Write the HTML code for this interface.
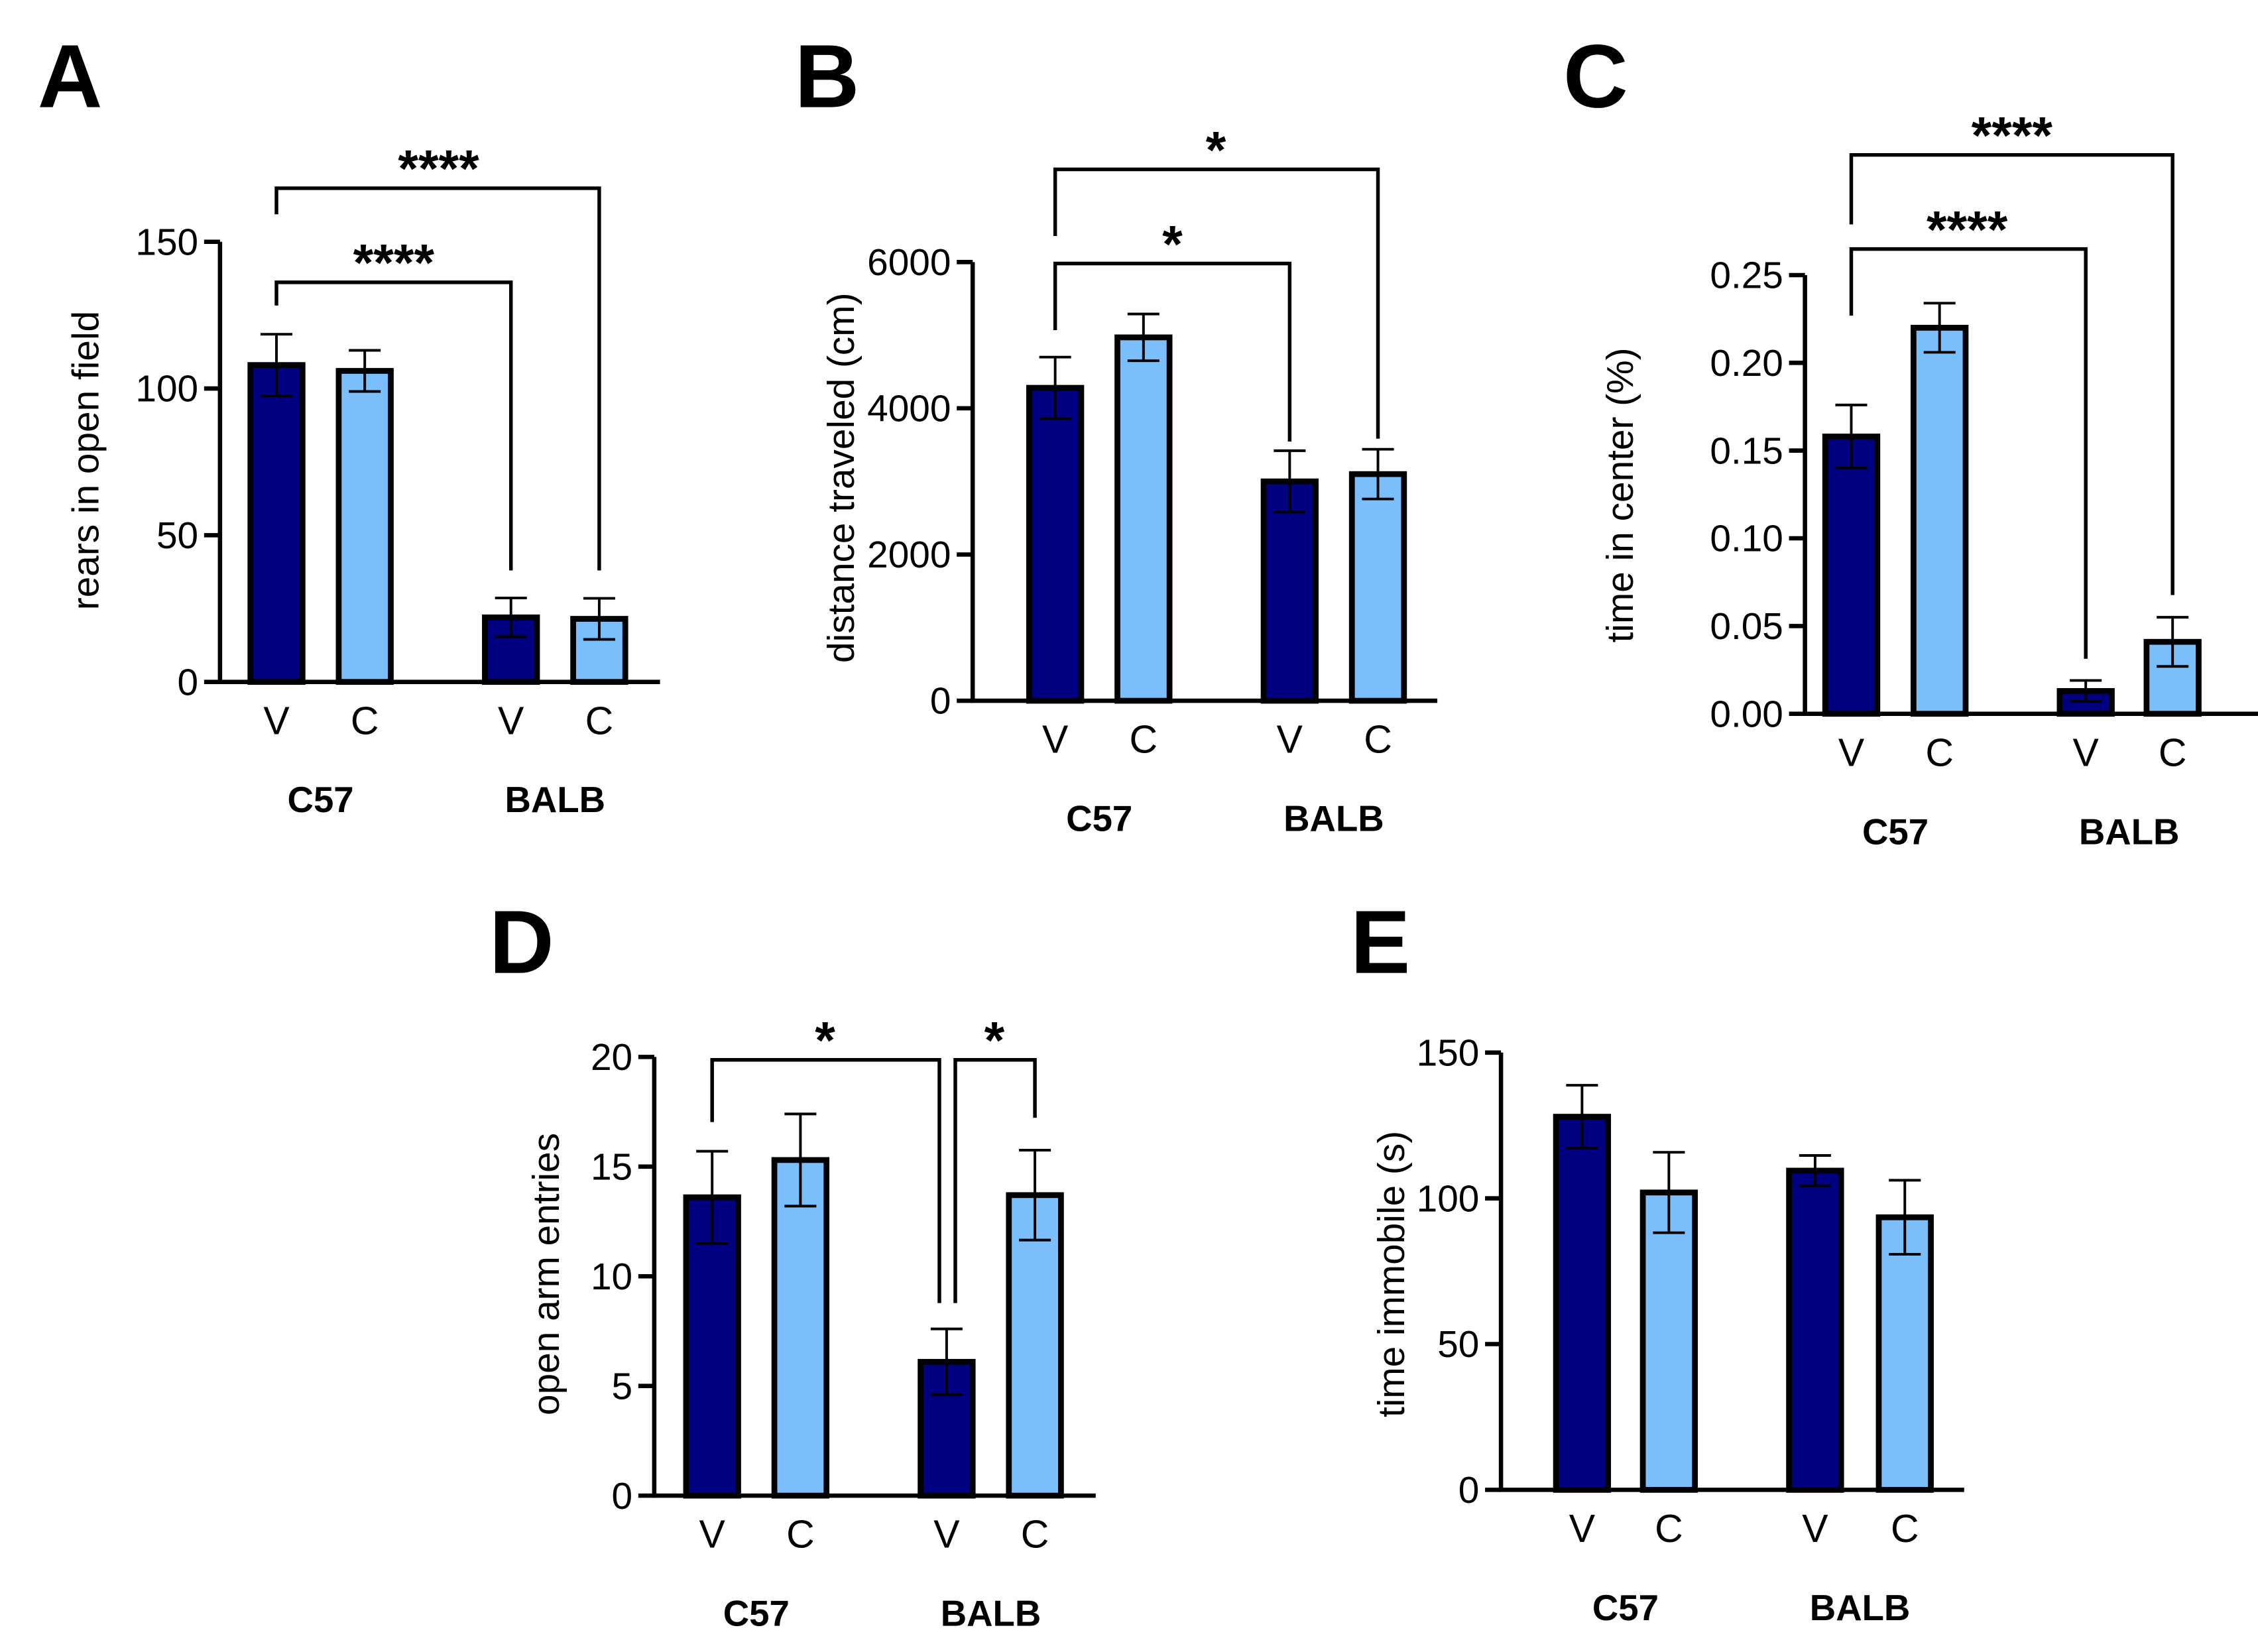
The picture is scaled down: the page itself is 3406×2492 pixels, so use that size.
<!DOCTYPE html>
<html><head><meta charset="utf-8"><style>
html,body{margin:0;padding:0;background:#fff;}
svg{display:block;}
text{font-family:"Liberation Sans",Arial,sans-serif;fill:#000;}
</style></head><body>
<svg id="fig" width="3406" height="2492" viewBox="0 0 1560 1141" preserveAspectRatio="none" xmlns="http://www.w3.org/2000/svg"></svg>
<script>
const categories = ["V","C","V","C"];
const groups = ["C57","BALB"];
const aVals = [108, 106, 22, 21.5];
const aErr = [10.5, 7, 6.6, 7];
const bVals = [4280, 4970, 3000, 3100];
const bErr = [420, 320, 420, 340];
const cVals = [0.158, 0.220, 0.013, 0.041];
const cErr = [0.018, 0.014, 0.006, 0.014];
const dVals = [13.6, 15.3, 6.1, 13.7];
const dErr = [2.1, 2.1, 1.5, 2.05];
const eVals = [128, 102, 109.5, 93.5];
const eErr = [10.8, 13.8, 5.2, 12.7];
const aTicks = [0, 50, 100, 150];
const bTicks = [0, 2000, 4000, 6000];
const cTicks = ["0.00","0.05","0.10","0.15","0.20","0.25"];
const dTicks = [0, 5, 10, 15, 20];
const eTicks = [0, 50, 100, 150];

const NS = "http://www.w3.org/2000/svg";
const svg = document.getElementById('fig');
function mk(tag, attrs, parent, txt){
  const e = document.createElementNS(NS, tag);
  for (const k in attrs) e.setAttribute(k, attrs[k]);
  if (txt !== undefined) e.textContent = txt;
  (parent || svg).appendChild(e);
  return e;
}
const DARK = "#000080", LIGHT = "#7bbefc";

function panel(p){
  const g = mk('g', {});
  
  
  const y = v => p.y0 - (v - p.min) / (p.max - p.min) * (p.y0 - p.yTop);
  const lt = mk('text', {x: p.lx, y: p.ly, 'font-size': 62, 'font-weight': 'bold'}, g, p.id);
  
  
  p.vals.forEach((v, i) => {
    const cx = p.bx[i];
    const r = mk('rect', {x: cx - 18, y: y(v), width: 36, height: p.y0 - y(v), fill: i % 2 ? LIGHT : DARK, stroke: '#000', 'stroke-width': 4}, g);
    
    
    const hi = y(v + p.err[i]), lo = y(v - p.err[i]);
    const eb = mk('path', {d: `M${cx},${hi}V${lo}M${cx-11},${hi}H${cx+11}M${cx-11},${lo}H${cx+11}`, stroke: '#000', 'stroke-width': 1.8, fill: 'none'}, g);
    
    
    const cl = mk('text', {x: cx, y: p.y0 + 36, 'font-size': 27, 'text-anchor': 'middle'}, g, categories[i]);
    
    
  });
  groups.forEach((gn, j) => {
    const gx = (p.bx[2*j] + p.bx[2*j+1]) / 2;
    const t = mk('text', {x: gx, y: p.y0 + 90, 'font-size': 25, 'font-weight': 'bold', 'text-anchor': 'middle'}, g, gn);
    
    
  });
  const ax = mk('path', {d: `M${p.ax},${p.yTop}V${p.y0}H${p.xEnd}`, stroke: '#000', 'stroke-width': 3, fill: 'none'}, g);
  
  
  p.ticks.forEach(t => {
    const v = parseFloat(t);
    const ty = y(v);
    const tk = mk('line', {x1: p.ax - 11, x2: p.ax, y1: ty, y2: ty, stroke: '#000', 'stroke-width': 3}, g);
    
    
    const tl = mk('text', {x: p.ax - 15, y: ty + 9, 'font-size': 26, 'text-anchor': 'end'}, g, String(t));
    
    
  });
  const yt = mk('text', {x: 0, y: 0, 'font-size': 26, 'text-anchor': 'middle', transform: `translate(${p.tx},${p.ty}) rotate(-90)`}, g, p.title);
  
  
  (p.brackets || []).forEach(b => {
    const br = mk('path', {d: `M${b.x1},${b.l1}V${b.y}H${b.x2}V${b.l2}`, stroke: '#000', 'stroke-width': 2.5, fill: 'none'}, g);
    
    
    const st = mk('text', {x: b.sx, y: b.y - 1, 'font-size': 36, 'font-weight': 'bold', 'text-anchor': 'middle'}, g, b.s);
    
    
  });
}

panel({id:'A', lx:26, ly:74, vals:aVals, err:aErr, min:0, max:150, ticks:aTicks, y0:471, yTop:167, ax:152, xEnd:456,
  bx:[191,252,353,414], title:'rears in open field', tx:68, ty:318,
  brackets:[{x1:191,x2:414,y:130,l1:148,l2:394,s:'****',sx:303},{x1:191,x2:353,y:195,l1:211,l2:394,s:'****',sx:272}]});
panel({id:'B', lx:549, ly:74, vals:bVals, err:bErr, min:0, max:6000, ticks:bTicks, y0:484, yTop:181, ax:672, xEnd:993,
  bx:[729,790,891,952], title:'distance traveled (cm)', tx:590, ty:330,
  brackets:[{x1:729,x2:952,y:117,l1:163,l2:303,s:'*',sx:840},{x1:729,x2:891,y:182,l1:228,l2:305,s:'*',sx:810}]});
panel({id:'C', lx:1080, ly:74, vals:cVals, err:cErr, min:0, max:0.25, ticks:cTicks, y0:493, yTop:190, ax:1247, xEnd:1560,
  bx:[1279,1340,1441,1501], title:'time in center (%)', tx:1128, ty:342,
  brackets:[{x1:1279,x2:1501,y:107,l1:155,l2:411,s:'****',sx:1390},{x1:1279,x2:1441,y:172,l1:218,l2:455,s:'****',sx:1359}]});
panel({id:'D', lx:338, ly:672, vals:dVals, err:dErr, min:0, max:20, ticks:dTicks, y0:1033, yTop:730, ax:452, xEnd:757,
  bx:[492,553,654,715], title:'open arm entries', tx:386, ty:880,
  brackets:[{x1:492,x2:649,y:732,l1:775,l2:900,s:'*',sx:570},{x1:660,x2:715,y:732,l1:900,l2:772,s:'*',sx:687}]});
panel({id:'E', lx:933, ly:672, vals:eVals, err:eErr, min:0, max:150, ticks:eTicks, y0:1029, yTop:727, ax:1037, xEnd:1357,
  bx:[1093,1153,1254,1316], title:'time immobile  (s)', tx:970, ty:880});
</script>
</body></html>
